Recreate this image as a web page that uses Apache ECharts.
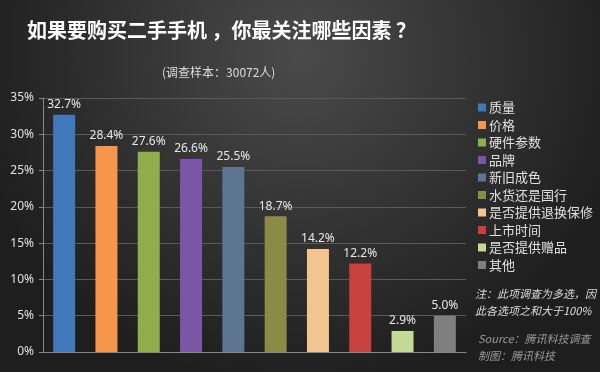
<!DOCTYPE html>
<html><head><meta charset="utf-8">
<script src="https://cdn.jsdelivr.net/npm/echarts@6/dist/echarts.min.js"></script>
<style>html,body{margin:0;padding:0;}#c{width:600px;height:372px;}</style>
</head><body><div id="c"></div>
<script>
const categories = ['质量','价格','硬件参数','品牌','新旧成色','水货还是国行','是否提供退换保修','上市时间','是否提供赠品','其他'];
const values = [32.7, 28.4, 27.6, 26.6, 25.5, 18.7, 14.2, 12.2, 2.9, 5.0];
const colors = ['#3f78bb','#f7964a','#8fae4b','#7a56a6','#5d7590','#8c8a47','#f2c48f','#c8413f','#c4d993','#7f7f7f'];
const yTicks = [0,5,10,15,20,25,30,35];

const chart = echarts.init(document.getElementById('c'));
const series = categories.map((name, i) => ({
  name: name,
  type: 'bar',
  stack: 'all',
  barWidth: '52%',
  data: values.map((v, j) => j === i ? v : null),
  itemStyle: { color: colors[i] },
  label: {
    show: true, position: 'top', distance: 4,
    color: '#e8e8e8', fontSize: 12, fontFamily: 'Noto Sans, sans-serif',
    formatter: p => p.value == null ? '' : p.value.toFixed(1) + '%'
  }
}));

chart.setOption({
  backgroundColor: {
    type: 'radial', x: 0.5, y: 0.15, r: 0.9,
    colorStops: [{offset: 0, color: '#4a4a4a'}, {offset: 1, color: '#1e1e1e'}]
  },
  title: [
    { text: '如果要购买二手手机 ，你最关注哪些因素 ？', left: 22, top: 15,
      textStyle: { color: '#ffffff', fontSize: 20, fontWeight: 'bold', fontFamily: 'Noto Sans CJK SC' } },
    { text: '(调查样本：30072人)', left: 157, top: 61,
      textStyle: { color: '#dddddd', fontSize: 12, fontWeight: 'normal', fontFamily: 'Noto Sans CJK SC' } }
  ],
  legend: {
    orient: 'vertical', left: 473, top: 96,
    icon: 'rect', itemWidth: 8, itemHeight: 8, itemGap: 4.5,
    textStyle: { color: '#e0e0e0', fontSize: 13, fontFamily: 'Noto Sans CJK SC', padding: [0,0,0,-2] },
    data: categories
  },
  grid: { left: 43, right: 134, top: 98, bottom: 20 },
  xAxis: {
    type: 'category', data: categories,
    axisLine: { show: true, lineStyle: { color: '#888' } },
    axisTick: { show: false }, axisLabel: { show: false }
  },
  yAxis: {
    type: 'value', min: yTicks[0], max: yTicks[yTicks.length - 1], interval: 5,
    axisLine: { show: true, lineStyle: { color: '#888' } },
    axisTick: { show: true, length: 4, lineStyle: { color: '#888' } },
    axisLabel: { color: '#e0e0e0', fontSize: 12, margin: 9, formatter: '{value}%', fontFamily: 'Noto Sans, sans-serif' },
    splitLine: { lineStyle: { color: '#5a5a5a' } }
  },
  graphic: [
    { type: 'text', left: 475, top: 285,
      style: { text: '注：此项调查为多选，因\n此各选项之和大于100%', fill: '#dddddd',
        font: 'italic 11px "Noto Sans CJK SC"', lineHeight: 17 } },
    { type: 'text', left: 478, top: 330,
      style: { text: 'Source：腾讯科技调查\n制图：腾讯科技', fill: '#cccccc',
        font: 'italic 11px "Noto Sans CJK SC"', lineHeight: 17, opacity: 0.7 } }
  ],
  series: series
});
</script></body></html>
